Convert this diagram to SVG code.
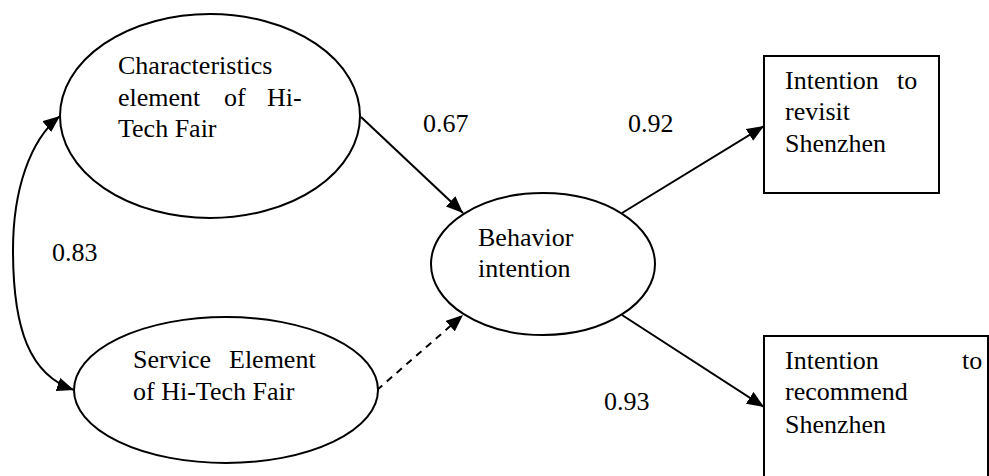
<svg xmlns="http://www.w3.org/2000/svg" width="989" height="476" viewBox="0 0 989 476">
<style>
.t{font-family:"Liberation Serif","Times New Roman",serif;font-size:26px;fill:#000}
.shape{fill:#fff;stroke:#000;stroke-width:2}
.ln{fill:none;stroke:#000;stroke-width:2}
.dash{stroke-dasharray:7 6}
</style>
<defs>
<marker id="ah" markerUnits="userSpaceOnUse" markerWidth="18" markerHeight="14" viewBox="0 0 18 14" refX="17" refY="7" orient="auto-start-reverse">
<path d="M0,0 L17,7 L0,14 Z" fill="#000"/>
</marker>
</defs>
<rect width="989" height="476" fill="#fff"/>
<g id="connectors">
<path class="ln" d="M60,116 C30,140 13,190 13,250 C13,330 30,375 74,390" marker-start="url(#ah)" marker-end="url(#ah)"/>
<line class="ln" x1="361" y1="117" x2="463" y2="213" marker-end="url(#ah)"/>
<line class="ln dash" x1="377" y1="390" x2="463" y2="315" marker-end="url(#ah)"/>
<line class="ln" x1="622" y1="213" x2="764" y2="126" marker-end="url(#ah)"/>
<line class="ln" x1="622" y1="315" x2="764" y2="407" marker-end="url(#ah)"/>
</g>
<g id="node-characteristics">
<ellipse class="shape" cx="210" cy="116" rx="150" ry="102"/>
<text class="t"><tspan x="118" y="74">Characteristics</tspan><tspan x="118" y="106">element</tspan><tspan x="224" y="106">of</tspan><tspan x="267" y="106">Hi-</tspan><tspan x="118" y="137">Tech Fair</tspan></text>
</g>
<g id="node-service">
<ellipse class="shape" cx="226" cy="390" rx="152" ry="73"/>
<text class="t"><tspan x="133" y="368">Service</tspan><tspan x="229" y="368">Element</tspan><tspan x="133" y="400">of Hi-Tech Fair</tspan></text>
</g>
<g id="node-behavior">
<ellipse class="shape" cx="543" cy="264" rx="112" ry="71"/>
<text class="t"><tspan x="478" y="246">Behavior</tspan><tspan x="478" y="277">intention</tspan></text>
</g>
<g id="node-revisit">
<rect class="shape" x="764" y="56" width="175" height="137"/>
<text class="t"><tspan x="785" y="89">Intention</tspan><tspan x="897" y="89">to</tspan><tspan x="785" y="120">revisit</tspan><tspan x="785" y="152">Shenzhen</tspan></text>
</g>
<g id="node-recommend">
<rect class="shape" x="764" y="336" width="224" height="150"/>
<text class="t"><tspan x="785" y="369">Intention</tspan><tspan x="962" y="369">to</tspan><tspan x="785" y="400">recommend</tspan><tspan x="785" y="433">Shenzhen</tspan></text>
</g>
<g id="labels">
<text class="t" x="52" y="261">0.83</text>
<text class="t" x="423" y="132">0.67</text>
<text class="t" x="628" y="132">0.92</text>
<text class="t" x="604" y="410">0.93</text>
</g>
</svg>
